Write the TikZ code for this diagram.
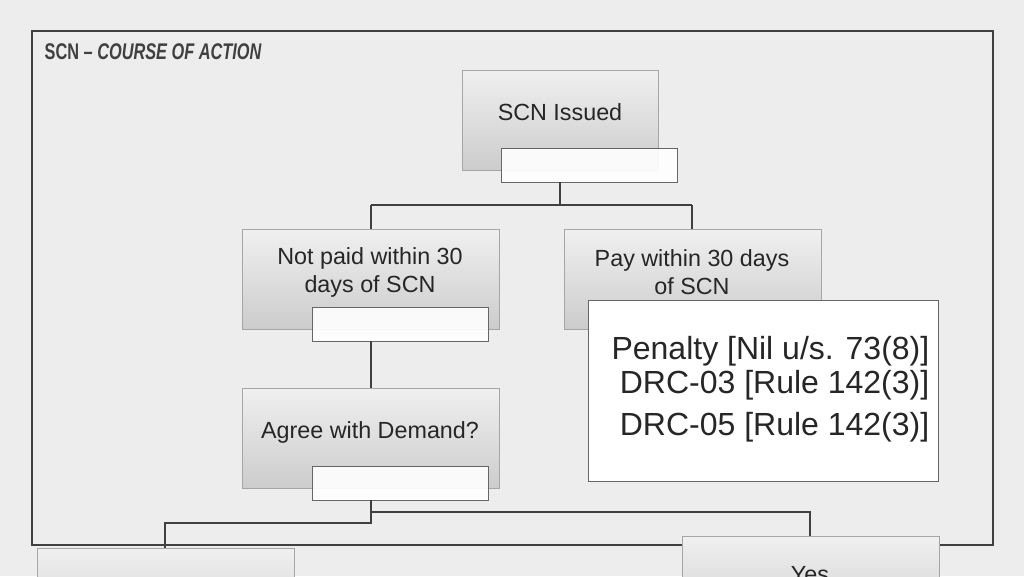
\documentclass[tikz,border=0pt]{standalone}
\usepackage{fontspec}
\setmainfont{Liberation Sans}
\begin{document}
\begin{tikzpicture}[x=0.75pt,y=-0.75pt,
  gbox/.style={draw=gray!70,top color=gray!12,bottom color=gray!40,minimum width=257*0.75pt,minimum height=100*0.75pt,inner sep=0pt},
  lbl/.style={align=center,font=\fontsize{17.5}{21}\selectfont,text=black!85},
  wbox/.style={draw=gray!80!black,fill=white,fill opacity=0.9,minimum width=176*0.75pt,minimum height=34*0.75pt,inner sep=0pt},
  conn/.style={draw=black!75,line width=2pt}]
\useasboundingbox (0,0) rectangle (1024,576);
\fill[gray!14] (0,0) rectangle (1024,576);
\draw[black!75,line width=2.2pt] (32,31) rectangle (993,545);
\node[anchor=west,font=\bfseries\fontsize{17}{20}\selectfont,text=black!75] (title) at (40,52) {\scalebox{0.72}[1]{SCN -- \itshape COURSE OF ACTION}};
% boxes
\node[gbox,anchor=north west,minimum width=196*0.75pt] (issued) at (462,70) {};
\node[lbl] (issuedt) at (560,112) {SCN Issued};
\node[wbox,anchor=north west] (w1) at (501,148) {};
\node[gbox,anchor=north west] (notpaid) at (242,229) {};
\node[lbl] (notpaidt) at (370,272) {Not paid within 30\\days of SCN};
\node[wbox,anchor=north west] (w2) at (312,307) {};
\node[gbox,anchor=north west] (pay) at (564,229) {};
\node[lbl] (payt) at (692,272) {Pay within 30 days\\of SCN};
\node[gbox,anchor=north west] (agree) at (242,388) {};
\node[lbl] (agreet) at (370,432) {Agree with Demand?};
\node[wbox,anchor=north west] (w3) at (312,466) {};
\node[draw=gray!80!black,fill=white,anchor=north west,minimum width=350*0.75pt,minimum height=181*0.75pt,inner sep=0pt] (pen) at (588,300) {};
\node[anchor=north east,align=right,font=\fontsize{24}{25.5}\selectfont,text=black!85] (pentext) at (934,332) {Penalty [Nil u/s. 73(8)]\\DRC-03 [Rule 142(3)]\\[6pt]DRC-05 [Rule 142(3)]};
\node[gbox,anchor=north west] (left) at (37,548) {};
\node[gbox,anchor=north west] (yes) at (682,536) {};
\node[lbl,anchor=north] (yest) at (810,562) {Yes};
% connectors
\coordinate (a1) at (560,182);
\coordinate (j1) at (560,205);
\coordinate (jl) at (371,205);
\coordinate (jr) at (692,205);
\draw[conn] (a1) -- (j1);
\draw[conn] (jl) -- (jr);
\draw[conn] (jl) -- (371,229);
\draw[conn] (jr) -- (692,229);
\coordinate (a2) at (371,341);
\draw[conn] (a2) -- (371,388);
\coordinate (a3) at (371,500);
\draw[conn] (a3) -- (371,523) -| (165,548);
\draw[conn] (371,512) -| (810,536);
\end{tikzpicture}
\end{document}
